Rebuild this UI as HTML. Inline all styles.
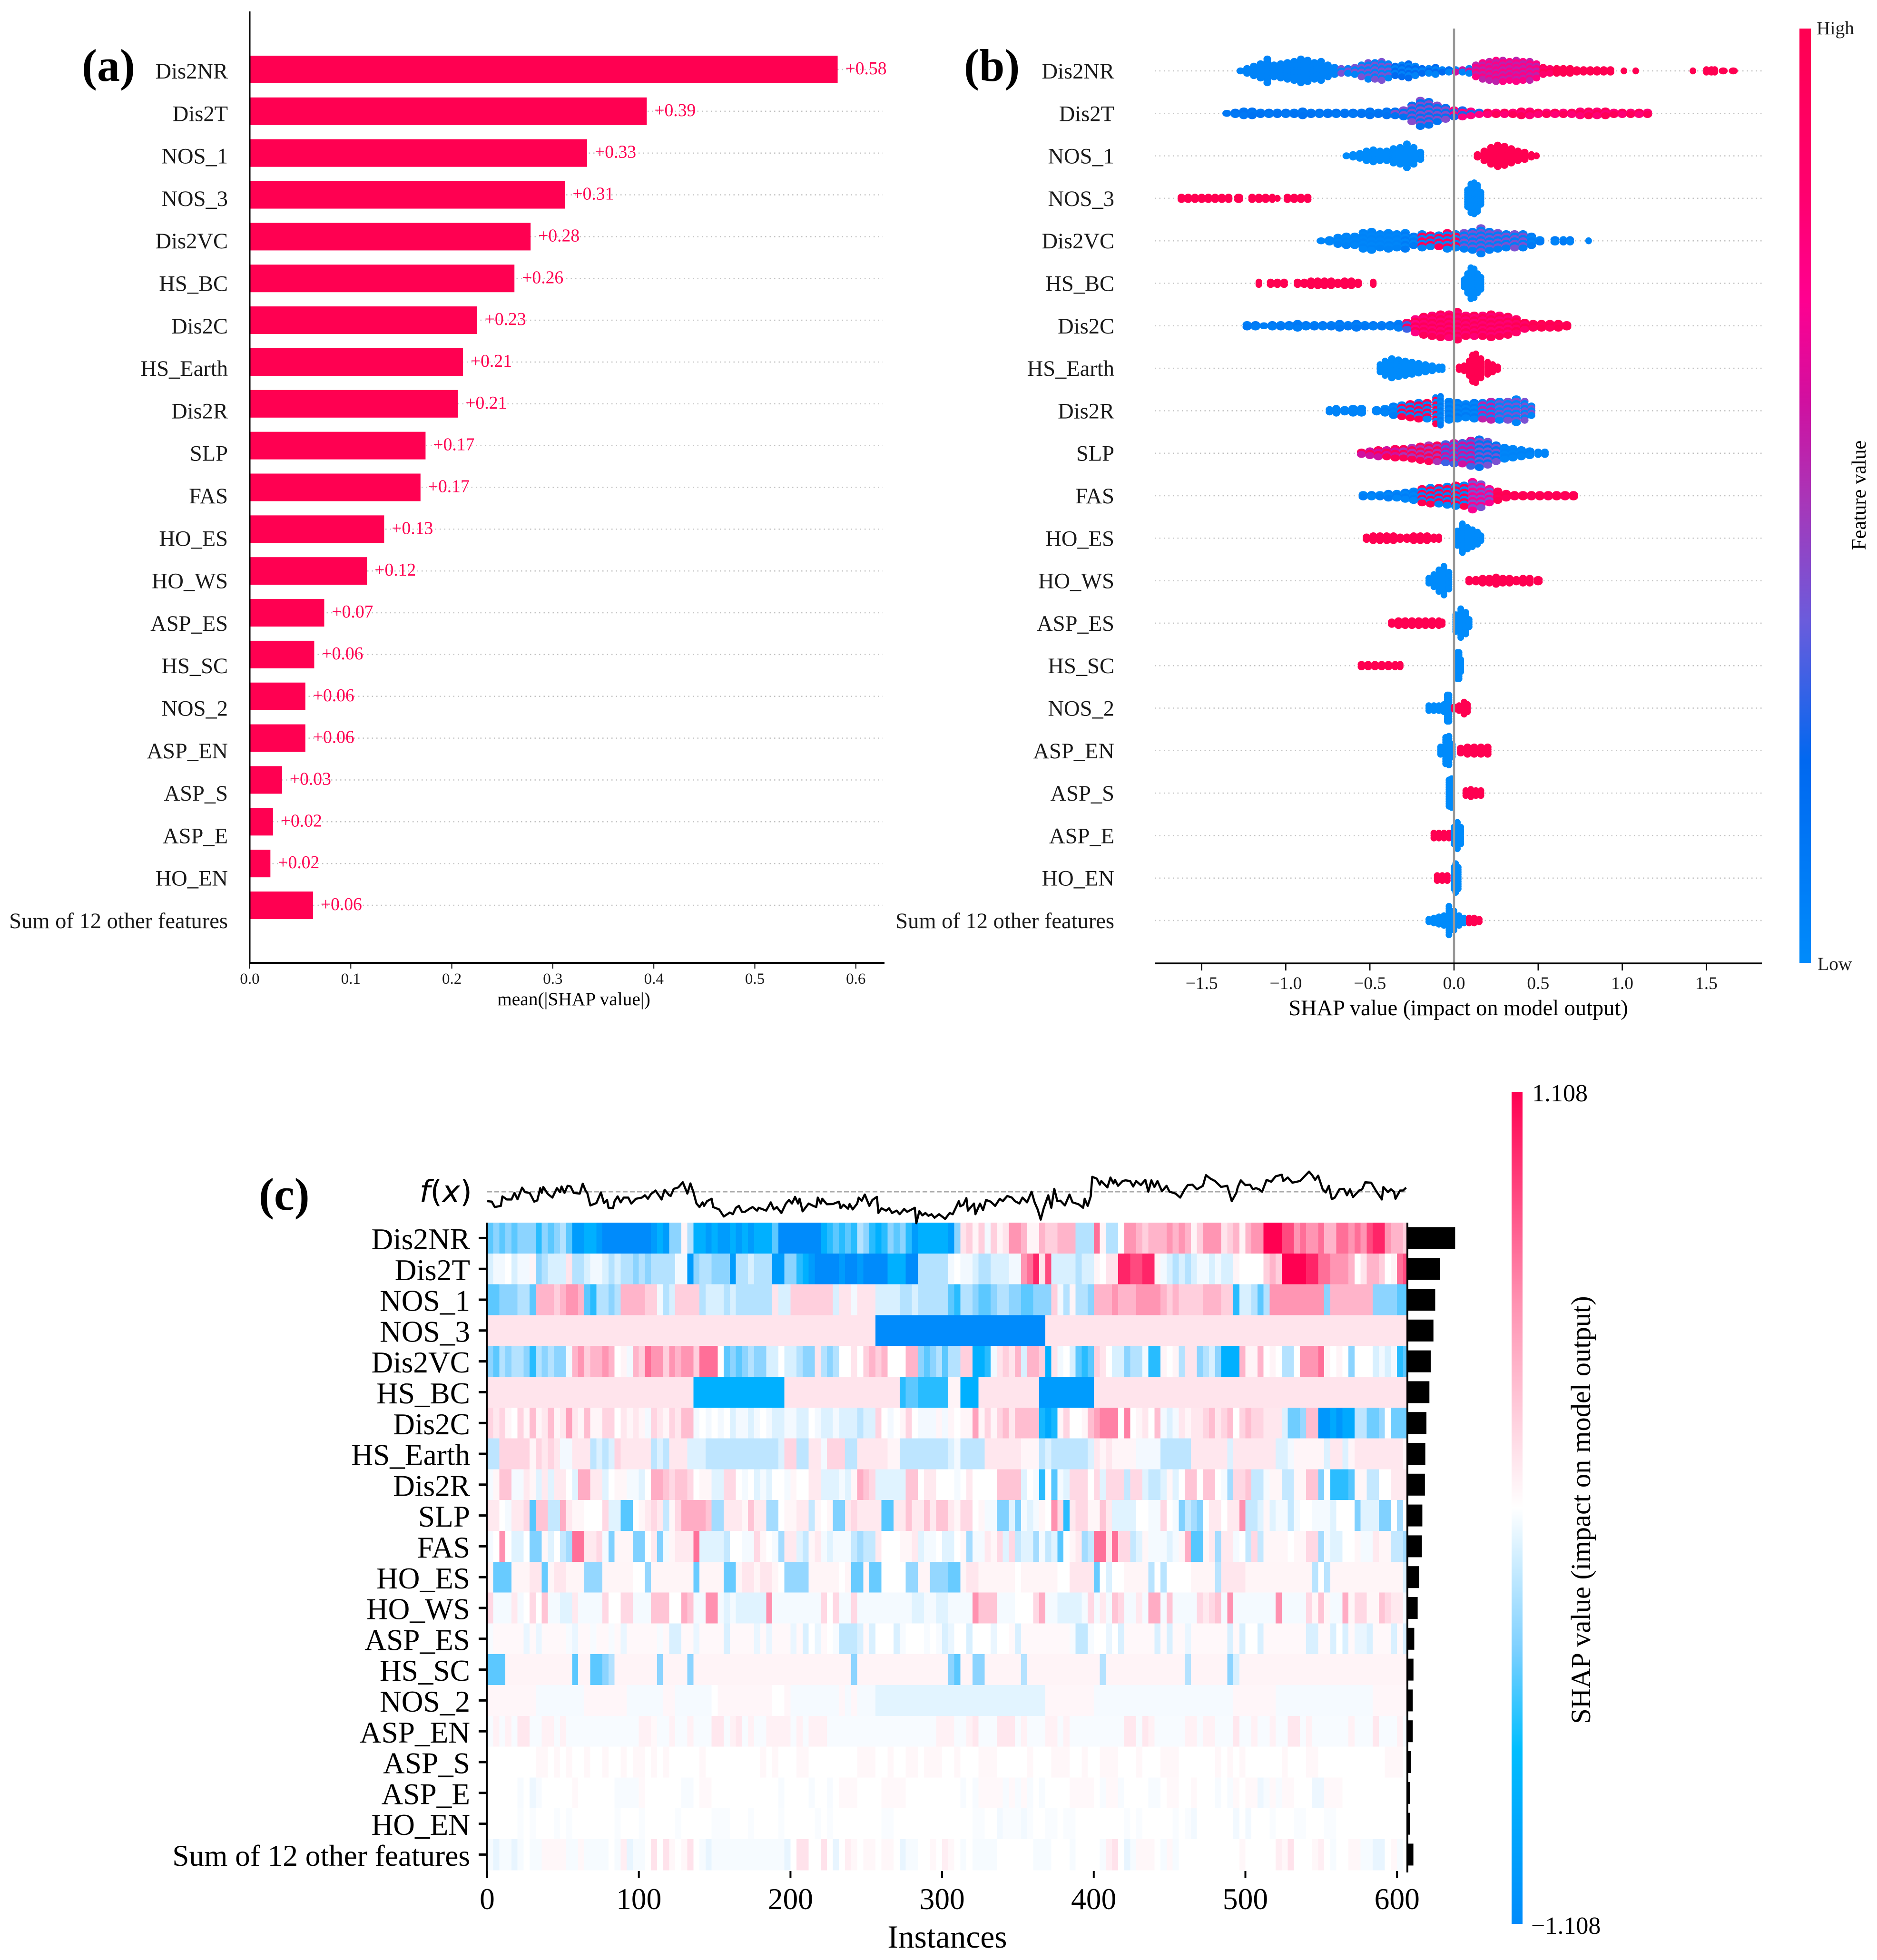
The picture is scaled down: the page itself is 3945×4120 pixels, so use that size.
<!DOCTYPE html>
<html lang="en">
<head>
<meta charset="utf-8">
<title>SHAP summary charts</title>
<style>
html,body{margin:0;padding:0;background:#fff}
svg{display:block}
text{font-family:"Liberation Serif","Times New Roman",serif}
</style>
</head>
<body>
<svg id="chart" xmlns="http://www.w3.org/2000/svg" width="3945" height="4120" viewBox="0 0 3945 4120">
<defs>
<linearGradient id="featureGradient" x1="0" y1="1" x2="0" y2="0">
<stop offset="0" stop-color="#008bfb"/><stop offset="0.216" stop-color="#0068f0"/><stop offset="0.365" stop-color="#6a5cdc"/><stop offset="0.495" stop-color="#a836b8"/><stop offset="0.6" stop-color="#d010a0"/><stop offset="0.71" stop-color="#ff0090"/><stop offset="0.816" stop-color="#ff0070"/><stop offset="1" stop-color="#ff0051"/>
</linearGradient>
<linearGradient id="shapGradient" x1="0" y1="1" x2="0" y2="0">
<stop offset="0" stop-color="#008bfb"/><stop offset="0.21" stop-color="#00beff"/><stop offset="0.33" stop-color="#7dd0ff"/><stop offset="0.5" stop-color="#ffffff"/><stop offset="0.75" stop-color="#ff90b0"/><stop offset="1" stop-color="#ff0051"/>
</linearGradient>
</defs>
<g id="panelA"></g>
<g id="panelB"></g>
<g id="panelC"></g>
<text x="172" y="170" font-size="96" font-weight="bold">(a)</text>
<text x="2026" y="170" font-size="96" font-weight="bold">(b)</text>
<text x="544" y="2543" font-size="96" font-weight="bold">(c)</text>
</svg>
<script>
const featureNames=["Dis2NR","Dis2T","NOS_1","NOS_3","Dis2VC","HS_BC","Dis2C","HS_Earth","Dis2R","SLP","FAS","HO_ES","HO_WS","ASP_ES","HS_SC","NOS_2","ASP_EN","ASP_S","ASP_E","HO_EN","Sum of 12 other features"];
const meanAbsValues=[0.582,0.393,0.334,0.312,0.278,0.262,0.225,0.211,0.206,0.174,0.169,0.133,0.116,0.0737,0.0638,0.055,0.055,0.032,0.023,0.0204,0.0626];
const barValueLabels=["+0.58","+0.39","+0.33","+0.31","+0.28","+0.26","+0.23","+0.21","+0.21","+0.17","+0.17","+0.13","+0.12","+0.07","+0.06","+0.06","+0.06","+0.03","+0.02","+0.02","+0.06"];
const barTicks=[0,0.1,0.2,0.3,0.4,0.5,0.6];
const swarmTicks=[-1.5,-1,-0.5,0,0.5,1,1.5];
const heatTicks=[0,100,200,300,400,500,600];

const dis2nrShap=[-1.27,-1.23,-1.19,-1.15,-1.11,-1.07,-1.03,-.99,-.95,-.91,-.87,-.83,-.79,-.75,-.71,-.67,-.63,-.59,-.55,-.51,-.47,-.43,-.39,-.35,-.31,-.27,-.23,-.19,-.15,-.11,-.07,-.03,.01,.05,.09,.13,.17,.21,.25,.29,.33,.37,.41,.45,.49,.53,.57,.61,.65,.69,.73,.77,.81,.85,.89,.93,1.01,1.08,1.42,1.5,1.53,1.55,1.6,1.66];
const dis2nrCount=[1,3,5,7,11,6,7,8,9,11,10,8,9,6,4,3,3,4,6,8,8,9,7,5,6,7,5,3,3,4,2,2,2,2,3,6,8,9,10,10,9,10,9,9,7,4,3,3,3,3,2,2,2,2,2,2,1,1,1,2,2,2,1,1];
const dis2nrFeatA=[.05,.05,.05,.05,.05,.05,.05,.05,.05,.05,.05,.05,.05,.05,.05,.05,.05,.05,.05,.05,.05,.05,.05,.05,.05,.05,.05,.05,.05,.05,.05,.05,.05,.05,.05,.75,.75,.75,.75,.75,.75,.75,.75,.75,.75,.85,.85,1,1,1,1,1,1,1,1,1,1,1,1,1,1,1,1,1];
const dis2nrFeatB=[.05,.05,.05,.05,.05,.05,.05,.05,.05,.05,.05,.05,.05,.05,.05,.4,.4,.4,.4,.4,.4,.4,.4,.2,.2,.2,.2,.2,.2,.2,.2,.2,.6,.6,.6,.55,.55,.55,.55,.55,.55,.55,.55,.55,.55,.95,.95,1,1,1,1,1,1,1,1,1,1,1,1,1,1,1,1,1];

const dis2tShap=[-1.35,-1.3,-1.25,-1.2,-1.15,-1.1,-1.05,-1,-.95,-.9,-.85,-.8,-.75,-.7,-.65,-.6,-.55,-.5,-.45,-.4,-.35,-.3,-.25,-.2,-.15,-.1,-.05,0,.05,.1,.15,.2,.25,.3,.35,.4,.45,.5,.55,.6,.65,.7,.75,.8,.85,.9,.95,1,1.05,1.1,1.15];
const dis2tCount=[1,2,3,3,2,2,2,2,2,3,2,2,2,2,2,2,2,3,2,3,3,4,8,12,11,8,6,4,4,3,2,2,2,2,2,3,3,2,2,2,2,2,3,3,3,3,2,2,2,2,2];
const dis2tFeatA=[.12,.12,.12,.12,.12,.12,.12,.12,.12,.12,.12,.12,.12,.12,.12,.12,.12,.12,.12,.12,.15,.15,.15,.15,.15,.15,.15,.25,.25,.25,.25,.8,.8,.8,.8,.8,.8,.8,.8,.8,.8,.8,.8,.8,.8,.8,.8,.8,.8,.8,.8];
const dis2tFeatB=[.15,.15,.15,.15,.15,.15,.15,.15,.15,.15,.15,.15,.15,.15,.15,.15,.15,.15,.15,.15,.42,.42,.42,.42,.42,.42,.42,.75,.75,.75,.75,.95,.95,.95,.95,.95,.95,.95,.95,.95,.95,.95,.95,.95,.95,.95,.95,.95,.95,.95,.95];

const nos1LowShap=[-.64,-.6,-.56,-.52,-.48,-.44,-.4,-.36,-.32,-.28,-.24,-.2];
const nos1LowCount=[1,2,3,5,6,5,5,7,8,11,8,4];
const nos1HighShap=[.14,.18,.22,.26,.3,.34,.38,.42,.46,.49];
const nos1HighCount=[2,5,8,10,9,7,5,4,2,1];

const nos3HighShap=[-1.62,-1.58,-1.54,-1.5,-1.46,-1.42,-1.38,-1.34,-1.28,-1.2,-1.16,-1.12,-1.08,-1.05,-.99,-.95,-.91,-.87];
const nos3HighCount=[2,2,2,2,2,2,2,2,2,2,2,2,2,1,2,2,2,2];
const nos3LowShap=[.08,.1,.12,.14,.16];
const nos3LowCount=[8,13,14,12,6];

const dis2vcShap=[-.79,-.74,-.69,-.64,-.59,-.54,-.49,-.44,-.39,-.34,-.29,-.24,-.19,-.14,-.09,-.04,.01,.06,.11,.16,.21,.26,.31,.36,.41,.46,.51,.6,.65,.69,.8];
const dis2vcCount=[1,2,4,5,5,8,9,7,8,7,8,5,7,6,6,8,7,8,9,12,9,8,7,7,7,5,2,2,2,2,1];
const dis2vcFeatA=[.03,.03,.03,.03,.03,.03,.03,.03,.03,.03,.03,.03,.05,.05,.05,.05,.05,.08,.08,.08,.08,.08,.08,.08,.08,.05,.05,.05,.05,.05,.05];
const dis2vcFeatB=[.05,.05,.05,.05,.05,.05,.05,.05,.05,.05,.1,.1,.95,.95,.95,.95,.95,.4,.4,.4,.4,.4,.4,.4,.4,.1,.1,.1,.1,.1,.1];

const hsbcHighShap=[-1.16,-1.09,-1.05,-1.01,-.93,-.89,-.85,-.81,-.77,-.73,-.69,-.65,-.61,-.57,-.48];
const hsbcHighCount=[2,2,2,2,2,2,3,3,3,3,2,3,3,2,2];
const hsbcLowShap=[.06,.08,.1,.12,.14,.16];
const hsbcLowCount=[4,9,14,13,9,6];

const dis2cShap=[-1.23,-1.18,-1.13,-1.08,-1.03,-.98,-.93,-.88,-.83,-.78,-.73,-.68,-.63,-.58,-.53,-.48,-.43,-.38,-.33,-.28,-.23,-.18,-.13,-.08,-.03,.02,.07,.12,.17,.22,.27,.32,.37,.42,.47,.52,.57,.62,.67];
const dis2cCount=[2,2,1,2,2,2,3,2,2,2,2,3,2,3,2,2,2,2,3,4,7,9,10,11,11,13,10,10,10,11,10,9,7,4,3,3,3,3,2];
const dis2cFeatA=[.08,.08,.08,.08,.08,.08,.08,.08,.08,.08,.08,.08,.08,.08,.08,.08,.08,.08,.08,.3,.75,.8,.8,.8,.8,.8,.8,.8,.8,.8,.8,.8,.85,.85,.95,.95,.95,.95,.95];
const dis2cFeatB=[.12,.12,.12,.12,.12,.12,.12,.12,.12,.12,.12,.12,.12,.12,.12,.12,.12,.12,.12,.9,.95,.95,.95,.95,.95,.95,.95,.95,.95,.95,.95,.95,1,1,1,1,1,1,1];

const hsEarthLowShap=[-.44,-.41,-.37,-.33,-.29,-.25,-.21,-.17,-.13,-.09,-.07];
const hsEarthLowCount=[4,7,9,8,7,6,5,4,3,2,2];
const hsEarthHighShap=[.03,.06,.09,.11,.13,.16,.2,.23,.26];
const hsEarthHighCount=[2,3,7,12,13,9,6,4,2];

const dis2rShap=[-.74,-.7,-.65,-.6,-.55,-.46,-.41,-.36,-.31,-.26,-.21,-.16,-.11,-.08,-.03,.02,.07,.12,.17,.22,.27,.32,.37,.42,.46];
const dis2rCount=[2,3,2,3,3,2,3,5,6,7,8,8,12,13,9,8,7,8,8,9,9,9,11,9,5];
const dis2rFeatA=[.04,.04,.04,.04,.04,.04,.04,.04,.04,.04,.04,.04,.04,.04,.04,.04,.04,.04,.04,.04,.04,.04,.04,.04,.04];
const dis2rFeatB=[.05,.05,.05,.05,.05,.05,.08,.08,1,1,1,1,1,.1,.1,.1,.1,.1,.55,.55,.4,.4,.4,.4,.4];

const slpShap=[-.55,-.5,-.45,-.4,-.35,-.3,-.25,-.2,-.15,-.1,-.05,0,.05,.1,.15,.2,.25,.3,.35,.4,.45,.5,.54];
const slpCount=[2,3,4,4,5,5,6,7,8,8,9,10,10,12,13,11,8,6,5,4,3,2,2];
const slpFeatA=[.95,.95,.95,.95,.95,.5,.5,.5,.5,.5,.3,.3,.3,.3,.15,.15,.15,.03,.03,.03,.03,.03,.03];
const slpFeatB=[.6,.6,.6,.6,.6,.95,.95,.95,.95,.95,.6,.6,.6,.6,.4,.4,.4,.05,.05,.05,.05,.05,.05];

const fasShap=[-.54,-.49,-.44,-.39,-.34,-.29,-.24,-.19,-.14,-.09,-.04,.01,.06,.11,.16,.21,.26,.31,.36,.41,.46,.51,.56,.61,.66,.71];
const fasCount=[2,2,2,3,3,4,5,7,8,8,9,10,10,13,11,7,5,3,2,2,2,2,2,2,2,2];
const fasFeatA=[.03,.03,.03,.03,.03,.03,.03,.04,.04,.04,.04,.04,.04,.4,.4,.4,1,1,1,1,1,1,1,1,1,1];
const fasFeatB=[.08,.08,.08,.08,.08,.08,.08,1,1,1,1,1,1,.7,.7,.7,.95,.95,.95,.95,.95,.95,.95,.95,.95,.95];

const hoEsHighShap=[-.52,-.48,-.44,-.4,-.36,-.32,-.28,-.24,-.2,-.16,-.12,-.09];
const hoEsHighCount=[2,3,3,3,3,2,2,3,3,3,2,2];
const hoEsLowShap=[.02,.05,.08,.11,.14,.16];
const hoEsLowCount=[7,13,10,8,6,3];
const hoWsLowShap=[-.15,-.12,-.09,-.06,-.03];
const hoWsLowCount=[3,6,10,13,8];
const hoWsHighShap=[.09,.13,.17,.21,.25,.29,.33,.37,.41,.45,.5];
const hoWsHighCount=[2,2,3,3,4,3,3,2,3,3,2];
const aspEsHighShap=[-.37,-.33,-.29,-.25,-.21,-.17,-.13,-.09,-.07];
const aspEsHighCount=[2,3,3,3,3,3,3,3,2];
const aspEsLowShap=[.01,.04,.07,.09];
const aspEsLowCount=[8,13,10,4];
const hsScHighShap=[-.55,-.51,-.47,-.43,-.39,-.35,-.32];
const hsScHighCount=[2,2,2,2,2,2,2];
const hsScLowShap=[.02,.03,.04];
const hsScLowCount=[12,12,6];
const nos2LowShap=[-.15,-.12,-.09,-.06,-.04,-.03];
const nos2LowCount=[3,3,3,4,12,12];
const nos2HighShap=[0,.03,.06,.08];
const nos2HighCount=[2,3,6,4];
const aspEnLowShap=[-.08,-.05,-.03,-.01];
const aspEnLowCount=[4,12,13,6];
const aspEnHighShap=[.04,.08,.12,.16,.2];
const aspEnHighCount=[3,4,4,4,4];
const aspSLowShap=[-.03,-.015];
const aspSLowCount=[12,13];
const aspSHighShap=[.07,.1,.13,.16];
const aspSHighCount=[3,4,3,3];
const aspEHighShap=[-.12,-.09,-.06,-.03];
const aspEHighCount=[3,3,3,3];
const aspELowShap=[0,.02,.04];
const aspELowCount=[8,12,8];
const hoEnHighShap=[-.1,-.07,-.04];
const hoEnHighCount=[3,3,3];
const hoEnLowShap=[0,.01,.025];
const hoEnLowCount=[10,13,10];
const sumHighShap=[.09,.12,.15];
const sumHighCount=[3,3,2];
const sumLowShap=[-.15,-.12,-.09,-.06,-.03,0,.03,.06];
const sumLowCount=[2,3,4,5,13,9,5,3];

const fxInstances=[0,3,5,9,10,13,16,18,20,23,25,28,31,33,35,36,37,40,43,46,48,49,51,53,55,57,61,63,65,66,68,72,75,77,79,80,83,84,86,88,90,93,95,98,102,104,106,108,111,115,117,120,121,123,126,129,132,134,136,138,140,142,143,145,148,149,153,156,160,162,164,166,168,170,173,175,178,179,182,184,187,189,191,194,197,199,201,203,205,206,208,212,215,217,218,220,221,224,228,232,233,235,238,239,241,244,245,247,249,252,254,257,258,260,263,265,267,270,272,275,277,282,283,285,287,289,291,293,295,298,302,305,307,309,311,312,314,316,317,319,321,322,325,327,329,332,335,338,340,343,346,348,351,353,356,359,361,363,365,367,370,372,374,376,378,381,384,386,390,393,394,396,398,399,402,404,405,409,411,413,414,416,419,421,424,426,428,431,434,436,438,440,442,445,448,450,454,457,460,462,465,468,472,474,477,480,484,488,491,494,495,497,500,503,505,507,509,511,514,517,520,524,525,528,531,536,539,542,544,546,548,551,553,555,557,559,562,565,567,569,571,575,577,579,583,586,590,591,594,596,598,599,602,604,606];
const fxValues=[-.40,-.42,-.65,-.60,-.20,-.33,-.33,-.05,-.32,.17,-.02,-.05,-.42,-.37,.15,-.05,.20,-.10,-.25,.15,-.02,.22,-.05,.25,.22,-.05,-.08,.34,.02,-.05,-.58,-.48,-.03,-.48,-.35,-.68,-.70,-.40,-.20,-.45,-.25,-.25,-.50,-.30,-.25,-.15,-.30,-.10,.05,-.33,.08,-.15,-.18,.12,.18,.40,-.08,.35,-.02,-.50,-.65,-.45,-.60,-.40,-.30,-.65,-.75,-1.05,-.88,-.95,-.68,-.60,-.85,-.85,-.72,-.65,-.80,-.68,-.75,-.80,-.45,-.75,-.65,-.90,-.50,-.35,-.50,-.22,-.50,-.30,-.83,-.50,-.60,-.65,-.25,-.50,-.30,-.53,-.52,-.42,-.70,-.55,-.72,-.52,-.75,-.50,-.25,-.38,-.12,-.60,-.35,-.22,-.90,-.70,-.80,-.70,-.90,-.80,-.95,-.73,-.85,-.68,-1.33,-.82,-1.00,-.90,-1.02,-.95,-1.10,-.95,-1.15,-.90,-.95,-.68,-.40,-.62,-.55,-.27,-.80,-.65,-.50,-.95,-.50,-.78,-.35,-.42,-.60,-.30,-.40,-.18,-.25,-.40,-.50,-.25,-.45,0,-.45,-.75,-1.18,-.70,-.15,-.68,.12,-.40,-.38,-.58,-.12,-.45,-.53,-.68,-.30,-.60,-.20,.63,.55,.30,.45,.18,.60,.35,.50,.25,.45,.48,.45,.22,.45,.28,.50,0,.48,.20,.45,.02,.25,0,-.08,-.25,.10,.28,.30,.10,.25,.70,.55,.45,.20,.25,-.40,-.05,.20,.48,.28,.30,.10,.15,.10,0,.50,.42,.65,.72,.45,.60,.38,.45,.65,.85,.70,.50,.68,.10,-.03,.25,-.32,-.25,.10,.12,-.15,.10,-.23,.05,.10,.40,.38,.05,-.33,.20,-.02,.10,0,-.30,.05,.05,.17];

const heatPalette=["#008bfb","#009cfd","#00b0ff","#28bcff","#5cc8ff","#8cd4ff","#b4e2ff","#d8f0ff","#f2f9ff","#ffffff","#fff4f7","#ffe4ec","#ffcfdd","#ffb4ca","#ff95b3","#ff6f98","#ff4a7f","#ff2568","#ff0051"];

const heatDis2NR=[-5,-4,-5,-4,-5,-4,-4,-4,-6,-4,-5,-4,-3,-5,-8,-8,-7,-7,-8,-9,-9,-9,-9,-9,-9,-9,-9,-8,-7,-8,-4,-4,1,-3,-7,-7,-8,-7,-8,-8,-7,-8,-7,-8,-7,-7,-7,-5,-9,-9,-9,-9,-9,-9,-9,-7,-6,-5,-6,-5,-6,-3,-4,-6,-7,-6,-4,-5,-4,-6,-8,-7,-7,-7,-7,-7,
-8,-4,2,3,1,3,-1,3,1,2,5,5,4,1,1,4,3,3,4,4,4,-3,-3,-3,6,1,-3,-3,0,5,5,4,3,4,4,4,5,4,5,4,1,3,5,5,5,2,3,4,1,4,5,5,9,9,9,7,7,5,6,5,5,6,4,4,6,6,5,6,5,7,8,8,5,4,4,3];
const heatDis2T=[-2,-1,-1,0,-2,-1,-1,1,-4,-3,-2,-2,-2,2,-3,-3,-2,-1,-1,-2,-3,-2,-3,-3,-4,-3,-4,-3,-3,-3,-3,-1,-1,-8,-4,-3,-3,-4,-4,-4,-8,-3,-3,-2,-3,-3,-3,-8,-8,-4,-4,-6,-7,-8,-9,-9,-9,-9,-8,-9,-9,-8,-9,-9,-9,-9,-7,-7,-7,-9,-9,-3,-3,-3,-3,-3,
-1,0,-1,-1,-2,-3,-3,-2,-2,-2,-1,-1,5,6,8,2,7,-2,-2,-2,-2,-3,-2,-2,1,0,2,2,8,8,7,7,8,8,1,-1,-2,-3,-2,-3,-2,-1,-1,-2,-1,-2,-2,1,0,0,0,0,3,4,3,9,9,9,9,8,8,6,6,5,5,5,4,0,2,4,4,3,0,1,6,7];
const heatNOS1=[-5,-5,-4,-4,-4,-3,-3,-5,4,4,4,3,4,5,5,4,-5,-6,-3,-3,-4,-3,4,4,4,4,3,3,-1,-3,-2,3,3,3,3,-3,-2,-2,-2,-3,-2,-3,-3,-3,-3,-3,-3,2,-2,-2,3,3,3,3,3,3,3,-2,2,2,-1,2,2,2,-2,-2,-2,-2,-3,-3,-2,-3,-3,-3,-3,-3,
-5,-6,-3,-3,-4,-5,-5,-4,-3,-3,-4,-4,-5,-5,-4,-4,-4,3,-1,-3,1,-3,-3,-4,4,4,4,5,4,4,4,5,5,5,5,4,3,4,3,3,3,3,4,4,4,3,3,-6,-2,-2,-3,-5,-3,5,5,5,5,5,5,5,5,5,-4,4,4,4,4,4,4,4,-4,-4,-4,-4,-5,-5];
const heatNOS3=[2,2,2,2,2,2,2,2,2,2,2,2,2,2,2,2,2,2,2,2,2,2,2,2,2,2,2,2,2,2,2,2,2,2,2,2,2,2,2,2,2,2,2,2,2,2,2,2,2,2,2,2,2,2,2,2,2,2,2,2,2,2,2,2,-9,-9,-9,-9,-9,-9,-9,-9,-9,-9,-9,-9,
-9,-9,-9,-9,-9,-9,-9,-9,-9,-9,-9,-9,-9,-9,-9,-9,2,2,2,2,2,2,2,2,2,2,2,2,2,2,2,2,2,2,2,2,2,2,2,2,2,2,2,2,2,2,2,2,2,2,2,2,2,2,2,2,2,2,2,2,2,2,2,2,2,2,2,2,2,2,2,2,2,2,2,2];
const heatDis2VC=[-4,-5,-3,-4,-3,-3,-4,-6,-3,-4,-3,-4,-4,-1,4,5,3,4,4,5,4,0,1,-1,4,3,6,5,5,3,5,4,5,5,3,6,6,6,0,-5,-4,-5,-4,-3,-4,-4,-2,-2,0,-2,-2,-3,-4,-4,2,-3,-4,-3,0,0,2,0,3,4,3,4,0,0,0,4,4,-4,-5,-4,-3,-5,
-3,-3,3,3,-7,-7,-6,-1,2,3,2,4,-2,4,4,3,-7,2,-1,0,-2,-5,-6,-5,3,2,0,-2,-2,-4,-3,-3,-1,-6,-6,1,0,1,-3,2,2,-4,-3,-2,-4,-7,-7,-7,4,1,1,4,0,1,0,-3,-3,0,5,5,5,6,1,0,1,0,-4,0,0,0,-2,-1,-2,-1,-6,-5];
const heatHSBC=[2,2,2,2,2,2,2,2,2,2,2,2,2,2,2,2,2,2,2,2,2,2,2,2,2,2,2,2,2,2,2,2,2,2,-7,-7,-7,-7,-7,-7,-7,-7,-7,-7,-7,-7,-7,-7,-7,2,2,2,2,2,2,2,2,2,2,2,2,2,2,2,2,2,2,2,-6,-5,-5,-6,-6,-6,-6,-6,
1,1,-7,-7,-7,2,2,2,2,2,2,2,2,2,2,-8,-8,-8,-8,-8,-8,-8,-8,-8,2,2,2,2,2,2,2,2,2,2,2,2,2,2,2,2,2,2,2,2,2,2,2,2,2,2,2,2,2,2,2,2,2,2,2,2,2,2,2,2,2,2,2,2,2,2,2,2,2,2,2,2];
const heatDis2C=[3,2,3,1,0,3,1,4,1,2,4,1,2,5,2,1,4,1,1,3,3,0,2,1,2,1,-1,3,2,1,3,2,4,4,-1,0,-1,0,-1,0,-2,-1,-1,-2,-1,0,-1,-2,-2,-1,-1,-2,-2,0,-1,-2,-2,-1,-2,-2,-2,-3,-2,-2,3,0,-1,0,1,3,0,-1,-1,-1,1,-1,
1,0,1,1,5,1,3,1,3,4,2,4,4,4,4,-7,-8,-7,1,3,0,0,1,4,5,6,6,6,0,6,0,1,2,0,4,-1,-2,-1,2,1,2,2,3,4,2,3,4,0,3,4,3,3,2,2,2,-2,-5,-5,-4,4,4,-9,-9,-8,-9,-8,-8,-3,-3,-5,-5,-4,0,-5,-5,-5];
const heatHSEarth=[-3,-3,3,3,3,3,3,1,3,2,3,2,-1,-1,2,2,2,-3,-2,-3,-2,3,2,2,2,2,2,-3,-2,-3,2,2,2,-2,-2,-2,-3,-3,-3,-3,-3,-3,-3,-3,-3,-3,-3,-3,-2,3,3,-3,-3,2,2,-1,3,3,3,-3,-3,2,2,2,2,2,1,1,-3,-3,-3,-3,-3,-3,-3,-3,
-2,-1,-3,-3,-3,-3,2,2,2,2,2,2,1,1,1,-3,-2,-3,-3,-3,-3,-3,-3,-2,2,1,2,1,1,1,1,-1,-1,-1,-1,-3,-3,-3,-3,-3,2,2,2,2,2,2,-2,2,2,2,2,2,2,2,-2,-2,-1,1,1,1,1,1,-2,2,2,-2,1,2,2,2,2,2,2,2,2,1];
const heatDis2R=[-1,1,4,4,-1,-1,2,1,-2,2,-2,2,2,0,-2,5,5,2,2,-2,0,1,1,-1,-1,-2,0,5,5,4,3,4,4,3,0,1,1,-2,-2,3,3,0,-1,0,-2,-1,-2,0,0,-1,1,0,0,2,2,-2,-2,-2,-1,-2,1,5,4,3,-2,-2,-2,-2,-2,4,4,0,2,2,0,0,
0,-1,0,2,0,0,0,0,4,4,4,4,-2,0,-1,-7,0,-6,-1,-2,3,3,3,0,3,-2,3,3,3,-3,3,3,-2,-3,-3,-2,1,-2,0,4,4,0,4,4,0,-1,-4,3,3,4,-3,-3,-1,1,1,-3,-3,1,1,4,4,-5,0,-7,-7,-7,-6,1,1,-3,-3,0,0,2,2,2];
const heatSLP=[2,2,0,-1,2,2,3,-6,4,4,-3,-3,5,2,1,1,0,0,0,3,-2,-2,-6,-6,0,1,2,3,2,-3,1,3,5,5,5,5,4,-4,-4,2,2,2,1,4,2,2,-4,-4,0,1,1,2,2,-3,1,0,1,-5,-5,2,3,2,2,2,2,-6,-6,2,2,4,2,2,4,2,4,4,
2,1,3,3,0,1,-1,-1,-5,-5,-2,-5,-1,-2,-1,1,0,6,3,-7,2,3,3,1,1,4,2,-2,-2,-2,-2,0,0,-1,-1,3,0,-1,-5,-3,-4,-5,0,2,2,0,2,2,6,-3,-3,-2,1,-2,-1,-1,-3,-1,0,0,-1,-1,-1,-2,0,0,0,-5,-2,-2,-2,-5,-5,0,-4,0];
const heatFAS=[-1,0,6,0,-2,-2,0,-5,-5,1,-2,0,-3,-4,7,7,2,2,3,-1,-5,1,1,1,-5,-5,0,2,-5,-1,1,2,2,2,7,-2,-2,-2,-2,-3,0,0,-1,-1,3,1,0,-1,-4,2,2,-2,-3,1,2,-1,-2,-1,-1,-1,-3,-4,-3,-3,2,0,0,0,1,1,2,-2,-1,-1,0,-2,
-2,0,1,-4,-1,-1,2,1,3,-2,3,-3,-2,-2,-4,-1,-3,-2,-6,0,1,2,-4,-3,7,7,2,7,3,3,-3,-2,1,-1,-1,-1,-2,-1,1,5,-6,-6,1,2,-4,2,2,-1,0,-3,3,-3,1,1,1,1,0,1,1,3,3,-4,-1,-2,-2,0,0,1,-1,-1,2,1,1,-3,-3,-4];
const heatHOES=[1,-5,-5,-5,1,1,1,2,2,-5,1,2,2,1,1,1,-4,-4,-4,1,1,1,1,1,0,0,-4,1,1,1,1,1,1,1,-5,1,1,1,1,-5,-5,1,2,2,1,2,2,1,0,-4,-4,-4,-4,1,1,1,1,1,0,1,-5,-5,1,-5,-5,0,0,0,0,-4,-4,1,1,-4,-4,-4,
-5,-5,1,2,2,1,1,1,1,1,1,0,1,1,1,1,1,1,0,0,2,2,2,2,-5,0,-2,0,0,1,1,1,1,-3,0,-3,0,0,0,0,1,1,1,1,-3,2,2,2,2,1,1,1,1,1,1,1,1,1,1,1,-3,0,-3,1,1,1,1,1,1,1,1,1,1,1,1,-2];
const heatHOWS=[3,-1,-1,-1,2,-1,0,3,0,4,-1,-1,-2,-2,2,-1,-1,-1,-1,3,0,0,3,3,-1,-1,-1,4,4,4,0,0,5,4,-1,-1,6,6,-1,-2,-1,-2,-2,-2,-2,-2,6,-1,-1,-1,-1,-1,-1,-1,-1,3,0,3,-1,-1,3,-1,-1,-1,-1,-1,-1,-1,-1,-1,-2,-2,-1,-1,-2,-2,
-1,-1,-1,-1,6,4,4,4,-1,-1,-1,0,0,0,3,5,-1,-1,-2,-2,-2,-2,-1,3,-1,2,-1,4,3,-1,-1,2,-1,5,5,-1,4,-1,-1,-1,-1,3,2,3,4,-1,6,-1,-1,-1,-1,-1,-1,-1,6,-1,-1,-1,-1,3,1,4,1,-1,-1,5,1,3,3,1,1,4,3,2,2,-1];
const heatASPES=[-1,1,1,1,1,1,-2,1,-2,1,1,1,1,-1,-2,1,1,-1,1,1,-1,1,-2,1,1,1,1,1,-1,1,-3,-3,1,1,-2,1,1,1,1,-3,1,1,1,1,-2,1,-2,1,1,1,-2,1,-3,0,-2,1,0,-1,-4,-4,-4,-3,1,-3,0,0,0,-3,-1,0,0,0,-1,0,-1,-3,
-2,0,0,-3,0,0,0,-2,0,0,1,-3,1,1,1,1,1,1,1,1,-1,-4,-4,-1,0,0,-2,0,-3,1,1,1,1,1,-3,1,-3,1,1,-2,1,1,1,1,1,1,-3,1,-3,0,0,-3,1,1,1,1,1,1,1,-3,-3,1,1,-3,0,-3,1,-2,-2,-3,1,1,1,-3,1,-3];
const heatHSSC=[-5,-5,-5,1,1,1,1,1,1,1,1,1,1,1,-5,1,1,-5,-5,-4,-3,1,1,1,1,1,1,1,-4,1,1,1,1,-4,1,1,1,1,1,1,1,1,1,1,1,1,1,1,1,1,1,1,1,1,1,1,1,1,1,1,-4,1,1,1,1,1,1,1,1,1,1,1,1,1,1,1,
-4,-5,1,1,-4,-4,1,1,1,1,1,1,-3,1,1,1,1,1,1,1,1,1,1,1,1,-3,1,1,1,1,1,1,1,1,1,1,1,1,1,-3,1,1,1,1,1,1,-4,-2,1,1,1,1,1,1,1,1,1,1,1,1,1,1,1,1,1,1,1,1,1,1,1,1,1,1,1,1];
const heatNOS2=[1,1,1,1,1,1,1,1,-1,-1,-1,-1,-1,-1,-1,-1,1,1,1,1,1,1,1,-1,-1,-1,-1,-1,-1,1,1,-1,-1,-1,-1,-1,-1,0,1,1,1,1,1,1,1,1,1,0,0,1,-1,-1,-1,-1,-1,-1,-1,-1,1,-1,1,-1,-1,-1,-2,-2,-2,-2,-2,-2,-2,-2,-2,-2,-2,-2,
-2,-2,-2,-2,-2,-2,-2,-2,-2,-2,-2,-2,-2,-2,-2,-2,1,1,1,1,1,1,1,1,-1,-1,-1,-1,-1,-1,-1,-1,-1,-1,-1,-1,-1,-1,-1,-1,-1,-1,-1,-1,-1,-1,-1,1,1,1,1,1,1,1,-1,-1,-1,-1,-1,-1,-1,-1,-1,-1,-1,-1,-1,-1,-1,-1,1,1,1,1,1,1];
const heatASPEN=[-1,2,-1,2,-1,3,3,-1,-1,2,2,-1,2,-1,-1,-1,-1,-1,-1,-1,-1,-1,-1,-1,-1,2,2,1,-1,-1,2,-1,-1,2,-1,-1,-1,3,3,-1,2,3,-1,2,-1,-1,2,2,2,2,-1,2,-1,2,2,2,-1,-1,-1,-1,-1,-1,-1,-1,-1,-1,-1,-1,-1,-1,-1,-1,-1,-1,2,2,
2,-1,-1,2,3,-1,-1,-1,3,3,3,-1,2,-1,-1,-1,2,2,-1,2,-1,-1,-1,-1,-1,-1,-1,-1,-1,3,3,-1,3,2,-1,-1,-1,-1,-1,2,2,-1,2,2,-1,-1,-1,3,-1,-1,2,-1,-1,2,-1,-1,3,3,-1,2,-1,-1,-1,-1,-1,-1,2,-1,-1,-1,3,-1,-1,-1,2,-1];
const heatASPS=[0,0,0,0,0,0,0,0,1,1,0,1,0,1,0,0,1,0,0,1,0,0,1,0,1,1,0,1,0,1,0,0,0,0,0,1,0,0,0,0,0,0,0,0,0,1,0,1,0,0,0,1,1,0,0,0,0,0,0,0,0,1,1,1,0,0,1,0,0,1,1,0,1,1,1,0,
0,1,0,0,0,1,1,1,0,0,0,0,0,1,0,0,0,1,1,1,0,0,1,0,0,1,1,1,0,0,0,1,0,0,0,1,1,1,0,0,0,0,0,0,1,0,1,0,1,0,0,0,0,0,0,1,0,0,0,1,1,0,0,0,0,0,0,0,0,0,0,0,1,1,1,0];
const heatASPE=[0,0,0,0,0,-1,0,-2,-1,0,0,0,0,0,1,0,0,0,0,0,0,-1,-1,-1,-1,1,0,0,0,0,0,0,-1,-1,0,1,1,0,0,0,0,0,0,0,0,0,0,0,-1,0,0,0,0,-1,0,0,-1,0,1,1,1,0,0,0,0,1,1,1,1,0,0,0,0,0,0,0,
0,0,-1,0,-1,1,1,1,1,-1,1,-1,1,-1,0,-1,0,0,0,0,1,1,1,1,0,-1,1,1,-1,0,0,0,0,-1,-1,0,1,1,0,0,1,0,0,0,-1,0,-1,1,0,1,1,-2,-1,1,-1,1,1,0,0,0,-2,-2,1,1,1,0,0,0,0,0,0,0,0,0,0,0];
const heatHOEN=[0,0,0,0,0,-1,0,-1,0,0,0,-1,0,-1,0,0,0,0,0,0,0,-1,0,0,0,-1,0,0,0,0,0,-1,0,0,0,0,0,-1,-1,-1,0,0,0,-1,0,0,0,0,-1,0,0,0,0,0,-1,0,-1,0,0,0,0,0,0,0,0,-1,-1,0,0,0,0,0,0,0,0,0,
0,0,0,0,-1,-1,0,0,-2,-1,-1,-1,-2,-1,0,0,-1,-1,0,-1,-1,0,0,0,0,0,0,0,0,-1,0,-1,0,0,0,0,0,-1,0,-1,-2,0,0,0,0,0,0,-2,0,-2,0,0,0,-1,0,0,0,-1,-1,0,0,0,-1,-1,0,0,0,0,0,0,0,0,0,0,0,0];
const heatSum=[-1,-2,-1,-1,-2,-1,0,-1,-1,1,1,1,1,-1,-1,1,-1,-1,-1,-1,0,-1,2,-2,-1,-1,0,3,0,3,1,0,1,3,0,-1,-2,-1,-1,-1,-1,-1,-1,-1,-1,-1,-1,-1,-1,-2,0,3,3,0,0,3,0,-2,0,2,1,0,1,1,0,1,1,0,-2,-1,-1,0,0,1,0,2,
1,0,-1,0,-1,-1,-1,-1,0,0,0,0,0,0,-1,-1,-1,0,0,0,-1,0,0,0,0,-1,2,3,0,-2,-1,1,1,1,0,-1,1,-1,0,0,0,0,0,0,0,0,0,0,1,0,0,0,0,0,2,1,3,0,0,0,1,2,0,-1,0,0,1,1,-1,-1,-2,-2,0,1,-1,0];

const heatRows=[heatDis2NR,heatDis2T,heatNOS1,heatNOS3,heatDis2VC,heatHSBC,heatDis2C,heatHSEarth,heatDis2R,heatSLP,heatFAS,heatHOES,heatHOWS,heatASPES,heatHSSC,heatNOS2,heatASPEN,heatASPS,heatASPE,heatHOEN,heatSum];
const heatRowGain=[1,1,1,1,1,1,.92,.92,.85,.85,.85,.95,.85,.65,1,.8,.6,.7,.6,.5,.7];
const instancesPerBin=4;

const swarmGroups=[
[0,dis2nrShap,dis2nrCount,dis2nrFeatA,dis2nrFeatB],
[1,dis2tShap,dis2tCount,dis2tFeatA,dis2tFeatB],
[2,nos1LowShap,nos1LowCount,0,0],[2,nos1HighShap,nos1HighCount,1,1],
[3,nos3HighShap,nos3HighCount,1,1],[3,nos3LowShap,nos3LowCount,0,0],
[4,dis2vcShap,dis2vcCount,dis2vcFeatA,dis2vcFeatB],
[5,hsbcHighShap,hsbcHighCount,1,1],[5,hsbcLowShap,hsbcLowCount,0,0],
[6,dis2cShap,dis2cCount,dis2cFeatA,dis2cFeatB],
[7,hsEarthLowShap,hsEarthLowCount,0,0],[7,hsEarthHighShap,hsEarthHighCount,1,1],
[8,dis2rShap,dis2rCount,dis2rFeatA,dis2rFeatB],
[9,slpShap,slpCount,slpFeatA,slpFeatB],
[10,fasShap,fasCount,fasFeatA,fasFeatB],
[11,hoEsHighShap,hoEsHighCount,1,1],[11,hoEsLowShap,hoEsLowCount,0,0],
[12,hoWsLowShap,hoWsLowCount,0,0],[12,hoWsHighShap,hoWsHighCount,1,1],
[13,aspEsHighShap,aspEsHighCount,1,1],[13,aspEsLowShap,aspEsLowCount,0,0],
[14,hsScHighShap,hsScHighCount,1,1],[14,hsScLowShap,hsScLowCount,0,0],
[15,nos2LowShap,nos2LowCount,0,0],[15,nos2HighShap,nos2HighCount,1,1],
[16,aspEnLowShap,aspEnLowCount,0,0],[16,aspEnHighShap,aspEnHighCount,1,1],
[17,aspSLowShap,aspSLowCount,0,0],[17,aspSHighShap,aspSHighCount,1,1],
[18,aspEHighShap,aspEHighCount,1,1],[18,aspELowShap,aspELowCount,0,0],
[19,hoEnHighShap,hoEnHighCount,1,1],[19,hoEnLowShap,hoEnLowCount,0,0],
[20,sumLowShap,sumLowCount,0,0],[20,sumHighShap,sumHighCount,1,1]
];

const NS="http://www.w3.org/2000/svg";
function mk(parent,tag,attrs,txt){
  const el=document.createElementNS(NS,tag);
  for(const k in attrs){el.setAttribute(k,attrs[k]);}
  if(txt!==undefined){el.textContent=txt;}
  parent.appendChild(el);
  return el;
}
const panelA=document.getElementById('panelA');
const panelB=document.getElementById('panelB');
const panelC=document.getElementById('panelC');

/* axis functions */
const xA=v=>525+v*2123;
const yA=i=>146+i*87.85;
const yALabel=i=>165+i*89.3;
const xB=v=>3056+v*353.6;
const yB=i=>149+i*89.3;
const xH=i=>1024+i*3.187;
const yH=i=>2570+i*64.8;
const yF=v=>2505-v*49.75;
const importanceW=v=>v*169;

const featureStops=[[0,[0,139,251]],[0.216,[0,104,240]],[0.365,[106,92,220]],[0.495,[168,54,184]],[0.6,[208,16,160]],[0.71,[255,0,144]],[0.816,[255,0,112]],[1,[255,0,81]]];
function featureColor(f){
  f=Math.max(0,Math.min(1,f));
  for(let i=1;i<featureStops.length;i++){
    if(f<=featureStops[i][0]){
      const a=featureStops[i-1],b=featureStops[i],t=(f-a[0])/(b[0]-a[0]);
      return 'rgb('+a[1].map((c,j)=>Math.round(c+(b[1][j]-c)*t)).join(',')+')';
    }
  }
  return 'rgb(255,0,81)';
}
function hexRgb(h){return [parseInt(h.substr(1,2),16),parseInt(h.substr(3,2),16),parseInt(h.substr(5,2),16)];}
function heatColor(level){
  const p=Math.max(0,Math.min(18,level+9)),lo=Math.floor(p),hi=Math.min(18,lo+1),t=p-lo;
  const a=hexRgb(heatPalette[lo]),b=hexRgb(heatPalette[hi]);
  return 'rgb('+a.map((c,j)=>Math.round(c+(b[j]-c)*t)).join(',')+')';
}
const fmtTick=v=>(v<0?'\u2212':'')+Math.abs(v).toFixed(1);

/* ---------- panel A ---------- */
featureNames.forEach((name,i)=>{
  const grid=mk(panelA,'line',{x1:525,x2:1856,y1:yA(i),y2:yA(i),stroke:'#c4c4c4','stroke-width':2.5,'stroke-dasharray':'2.5 7'});
  
  
});
meanAbsValues.forEach((v,i)=>{
  const bar=mk(panelA,'rect',{x:xA(0),y:yA(i)-29,width:xA(v)-xA(0),height:58,fill:'#ff0051'});
  
  
  const val=mk(panelA,'text',{x:xA(v)+16,y:yA(i)+10,'font-size':37.6,fill:'#ff0051'},barValueLabels[i]);
  
  
  const lab=mk(panelA,'text',{x:479,y:yALabel(i),'font-size':46.5,'text-anchor':'end',fill:'#1a1a1a'},featureNames[i]);
  
  
});
const spineA=mk(panelA,'line',{x1:525,x2:525,y1:24,y2:2026,stroke:'#000','stroke-width':3});


const baseA=mk(panelA,'line',{x1:524,x2:1859,y1:2024,y2:2024,stroke:'#000','stroke-width':4});


barTicks.forEach(t=>{
  const tk=mk(panelA,'line',{x1:xA(t),x2:xA(t),y1:2024,y2:2036,stroke:'#000','stroke-width':2});
  
  
  const lb=mk(panelA,'text',{x:xA(t),y:2068,'font-size':33,'text-anchor':'middle',fill:'#1a1a1a'},t.toFixed(1));
  
  
});
const titleA=mk(panelA,'text',{x:1206,y:2113,'font-size':39.4,'text-anchor':'middle',fill:'#000'},'mean(|SHAP value|)');



/* ---------- panel B ---------- */
featureNames.forEach((name,i)=>{
  const grid=mk(panelB,'line',{x1:2427,x2:3703,y1:yB(i),y2:yB(i),stroke:'#c4c4c4','stroke-width':2.5,'stroke-dasharray':'2.5 7'});
  
  
  const lab=mk(panelB,'text',{x:2342,y:yB(i)+16,'font-size':46.5,'text-anchor':'end',fill:'#1a1a1a'},name);
  
  
});
const dotStep=5;
function dotRx(shap,j){
  let gap=Infinity;
  if(j>0){gap=Math.min(gap,xB(shap[j])-xB(shap[j-1]));}
  if(j<shap.length-1){gap=Math.min(gap,xB(shap[j+1])-xB(shap[j]));}
  if(gap>22){return 7;}
  return Math.max(7,Math.min(9.6,gap/2+1));
}
swarmGroups.forEach(g=>{
  const row=g[0],shap=g[1],count=g[2],fa=g[3],fb=g[4];
  shap.forEach((s,j)=>{
    const n=count[j];
    const rx=dotRx(shap,j);
    for(let k=0;k<n;k++){
      const f=((k+j)%2===0)?(Array.isArray(fa)?fa[j]:fa):(Array.isArray(fb)?fb[j]:fb);
      const dot=mk(panelB,'ellipse',{cx:xB(s),cy:yB(row)+(k-(n-1)/2)*dotStep,rx:rx,ry:7.3,fill:featureColor(f)});
      
      
    }
  });
});
const zero=mk(panelB,'line',{x1:xB(0),x2:xB(0),y1:60,y2:2025,stroke:'#999','stroke-width':4.5});


const baseB=mk(panelB,'line',{x1:2427,x2:3703,y1:2025,y2:2025,stroke:'#000','stroke-width':3.5});


swarmTicks.forEach(t=>{
  const tk=mk(panelB,'line',{x1:xB(t),x2:xB(t),y1:2025,y2:2040,stroke:'#000','stroke-width':2.5});
  
  
  const lb=mk(panelB,'text',{x:xB(t),y:2079,'font-size':37.5,'text-anchor':'middle',fill:'#1a1a1a'},fmtTick(t));
  
  
});
const titleB=mk(panelB,'text',{x:3065,y:2134,'font-size':46.4,'text-anchor':'middle',fill:'#000'},'SHAP value (impact on model output)');


const cbB=mk(panelB,'rect',{x:3782,y:60,width:24,height:1964,fill:'url(#featureGradient)'});


const hi=mk(panelB,'text',{x:3818,y:72,'font-size':39.5,fill:'#1a1a1a'},'High');


const lo=mk(panelB,'text',{x:3820,y:2039,'font-size':39.5,fill:'#1a1a1a'},'Low');


const fv=mk(panelB,'text',{transform:'translate(3921,1041) rotate(-90)','font-size':42.6,'text-anchor':'middle',fill:'#000'},'Feature value');



/* ---------- panel C ---------- */
heatRows.forEach((vals,r)=>{
  vals.forEach((v,b)=>{
    const x0=xH(b*instancesPerBin);
    const x1=Math.min(2958,xH((b+1)*instancesPerBin));
    if(x1<=x0){return;}
    const cell=mk(panelC,'rect',{x:x0,y:yH(r),width:x1-x0+0.5,height:65.3,fill:heatColor(v*heatRowGain[r]),'shape-rendering':'crispEdges'});
    
    
  });
  const tick=mk(panelC,'line',{x1:1006,x2:1023,y1:yH(r)+32.4,y2:yH(r)+32.4,stroke:'#000','stroke-width':5});
  
  
  const lab=mk(panelC,'text',{x:988,y:yH(r)+56,'font-size':63.3,'text-anchor':'end',fill:'#000'},featureNames[r]);
  
  
  const bar=mk(panelC,'rect',{x:2960,y:yH(r)+9.4,width:importanceW(meanAbsValues[r]),height:46,fill:'#000'});
  
  
});
const leftC=mk(panelC,'line',{x1:1023,x2:1023,y1:2570,y2:3936,stroke:'#000','stroke-width':4});


const rightC=mk(panelC,'line',{x1:2958,x2:2958,y1:2570,y2:3936,stroke:'#000','stroke-width':4});


heatTicks.forEach(t=>{
  const tk=mk(panelC,'line',{x1:xH(t),x2:xH(t),y1:3933,y2:3948,stroke:'#000','stroke-width':4});
  
  
  const lb=mk(panelC,'text',{x:xH(t),y:4013,'font-size':63.5,'text-anchor':'middle',fill:'#000'},String(t));
  
  
});
const titleC=mk(panelC,'text',{x:1991,y:4094,'font-size':67.5,'text-anchor':'middle',fill:'#000'},'Instances');


const baseLine=mk(panelC,'line',{x1:1024,x2:2958,y1:yF(0),y2:yF(0),stroke:'#aaa','stroke-width':3,'stroke-dasharray':'10 5'});


const fxPath=fxInstances.map((inst,i)=>(i?'L':'M')+xH(inst).toFixed(1)+' '+yF(fxValues[i]).toFixed(1)).join(' ');
const fxLine=mk(panelC,'path',{d:fxPath,fill:'none',stroke:'#000','stroke-width':4.5,'stroke-linejoin':'round'});


const fxLabel=mk(panelC,'text',{x:992,y:2527,'font-size':64,'text-anchor':'end',fill:'#000',style:'font-family:"DejaVu Sans",sans-serif'});


[['f','italic'],['(','normal'],['x','italic'],[')','normal']].forEach(p=>{
  const s=mk(fxLabel,'tspan',{'font-style':p[1]},p[0]);
  
  
});
const cbC=mk(panelC,'rect',{x:3177,y:2295,width:23,height:1749,fill:'url(#shapGradient)'});


const cbHi=mk(panelC,'text',{x:3220,y:2315,'font-size':52,fill:'#000'},'1.108');


const cbLo=mk(panelC,'text',{x:3218,y:4065,'font-size':52,fill:'#000'},'\u22121.108');


const cbTitle=mk(panelC,'text',{transform:'translate(3342,3174) rotate(-90)','font-size':58.5,'text-anchor':'middle',fill:'#000'},'SHAP value (impact on model output)');


</script>
</body>
</html>
